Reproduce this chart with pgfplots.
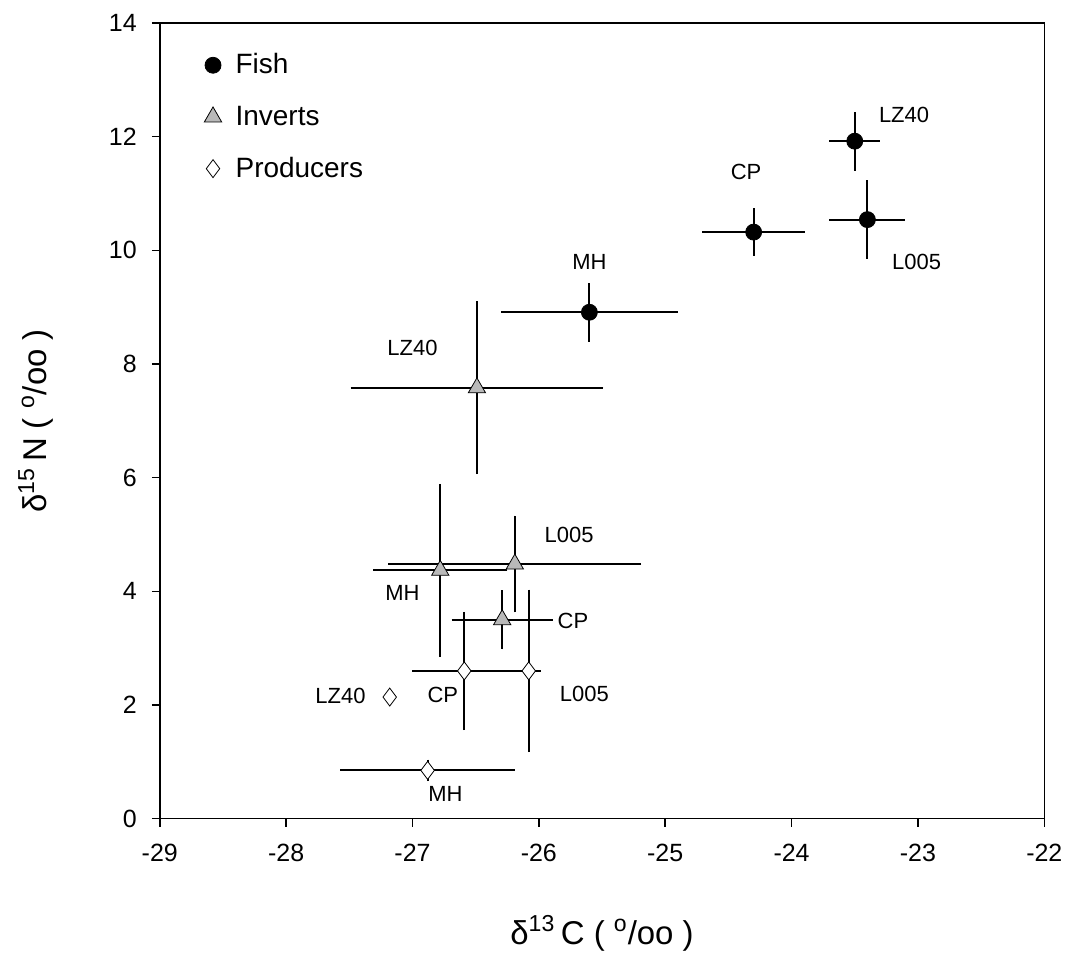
\documentclass[border=0pt]{standalone}
\usepackage{fontspec}
\setmainfont{Liberation Sans}
\usepackage{pgfplots}
\usepackage{pgfplotstable}
\pgfplotsset{compat=1.18}

% x y ex ey
\pgfplotstableread{
x      y      ex    ey
-23.50 11.92  0.20  0.52
-23.40 10.54  0.30  0.70
-24.30 10.32  0.41  0.42
-25.60  8.91  0.70  0.52
}\fish
\pgfplotstableread{
x      y      ex    ey
-26.49  7.58  1.00  1.52
-26.78  4.37  0.53  1.52
-26.19  4.48  1.00  0.85
-26.29  3.50  0.40  0.52
}\inverts
\pgfplotstableread{
x      y      ex    ey
-26.59  2.60  0.41  0.90
-26.08  2.60  0.10  1.29
-27.18  2.14  0.00  0.00
-26.88  0.85  0.69  0.05
}\producers

\begin{document}
\begin{tikzpicture}
\begin{axis}[
  scale only axis, width=443pt, height=398.5pt,
  xmin=-29, xmax=-22, ymin=0, ymax=14,
  xtick={-29,-28,...,-22}, ytick={0,2,...,14},
  tick align=outside, tick pos=left,
  major tick length=4pt,
  axis line style={line width=0.8pt},
  every tick/.style={black, line width=0.8pt},
  ticklabel style={font=\fontsize{12.5}{14}\selectfont},
  xticklabel shift=5pt, yticklabel shift=4pt,
  /pgf/number format/assume math mode=true,
  xlabel={δ\textsuperscript{13}\,C ( \textsuperscript{o}/oo )},
  ylabel={δ\textsuperscript{15}\,N ( \textsuperscript{o}/oo )},
  every axis x label/.style={at={(axis description cs:0.5,0)}, anchor=center, yshift=-57.5pt, font=\fontsize{16.5}{18}\selectfont},
  every axis y label/.style={at={(axis description cs:0,0.5)}, anchor=center, rotate=90, yshift=62pt, font=\fontsize{16.5}{18}\selectfont},
  legend style={draw=none, fill=none, at={(axis description cs:0.05,0.972)}, anchor=north west,
    font=\fontsize{14}{16}\selectfont, row sep=10.5pt, inner xsep=0pt},
  legend cell align=left,
  legend image code/.code={\draw[#1] plot coordinates {(0.15cm,0cm)};},
  error bars/error bar style={line width=1pt, black},
]
% producer x bars without caps
\addplot[only marks, mark=none, forget plot,
  error bars/.cd, x dir=both, x explicit, error mark=none]
  table[x=x, y=y, x error=ex] {\producers};
\addplot[only marks, mark=*, mark size=4pt, black,
  error bars/.cd, x dir=both, y dir=both, x explicit, y explicit, error mark=none]
  table[x=x, y=y, x error=ex, y error=ey] {\fish};
\addplot[only marks, mark=triangle*, mark size=5pt, draw=black, fill=gray!55,
  error bars/.cd, x dir=both, y dir=both, x explicit, y explicit, error mark=none]
  table[x=x, y=y, x error=ex, y error=ey] {\inverts};
\addplot[only marks, mark=diamond*, mark size=4.5pt, draw=black, fill=white,
  error bars/.cd, y dir=both, y explicit,
  error mark options={mark size=4pt, line width=1pt, black}]
  table[x=x, y=y, y error=ey] {\producers};
\legend{\hspace{5pt}Fish, \hspace{5pt}Inverts, \hspace{5pt}Producers}

\begin{scope}[font=\fontsize{11}{13}\selectfont]
\node at (axis cs:-23.11,12.38) {LZ40};
\node at (axis cs:-24.36,11.38) {CP};
\node at (axis cs:-23.01,9.80) {L005};
\node at (axis cs:-25.60,9.80) {MH};
\node at (axis cs:-27.00,8.29) {LZ40};
\node at (axis cs:-25.76,5.00) {L005};
\node at (axis cs:-27.08,3.97) {MH};
\node at (axis cs:-25.73,3.48) {CP};
\node at (axis cs:-27.57,2.16) {LZ40};
\node at (axis cs:-26.76,2.18) {CP};
\node at (axis cs:-25.64,2.20) {L005};
\node at (axis cs:-26.74,0.43) {MH};
\end{scope}
\end{axis}
% margins as in the reference
\path ([shift={(-80pt,-77.5pt)}]current axis.south west) rectangle ([shift={(11.5pt,11.5pt)}]current axis.north east);
\end{tikzpicture}
\end{document}
